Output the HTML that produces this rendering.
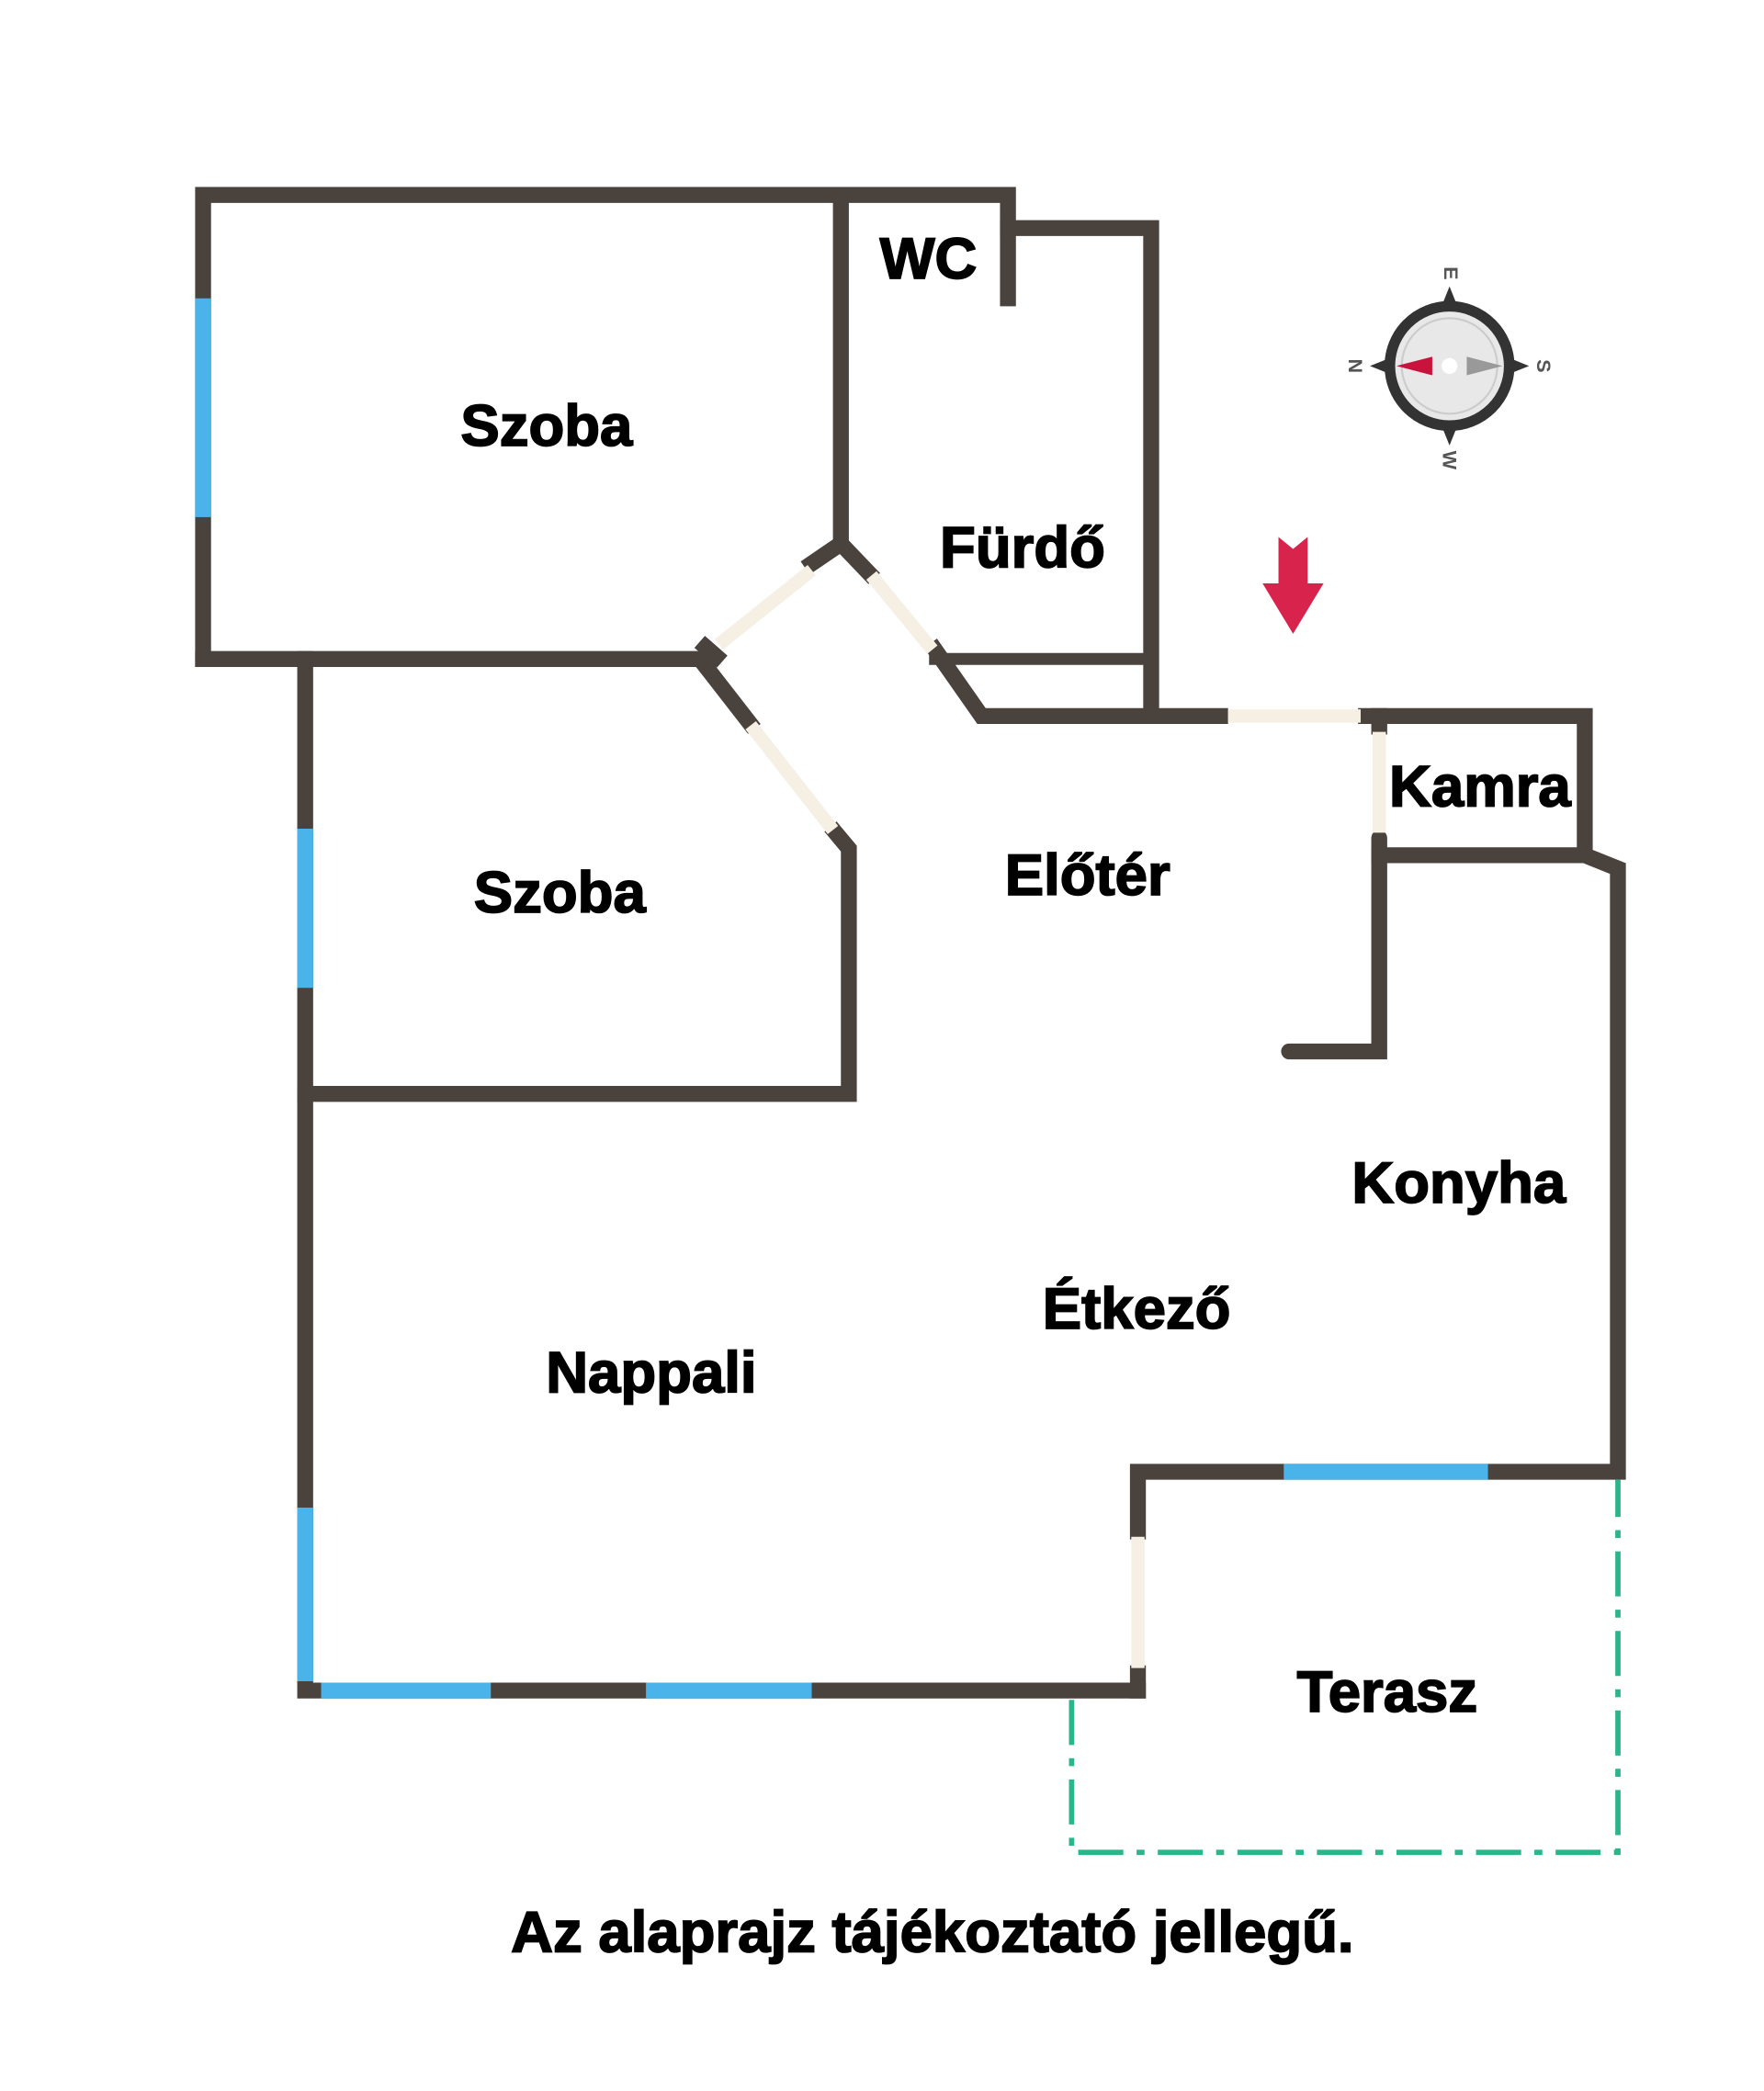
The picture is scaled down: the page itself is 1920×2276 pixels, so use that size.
<!DOCTYPE html>
<html><head><meta charset="utf-8"><style>
html,body{margin:0;padding:0;background:#fff}
svg{display:block}
text{font-family:"Liberation Sans",Arial,sans-serif;font-weight:bold;fill:#000}
.lbl text{stroke:#000;stroke-width:1.2}
</style></head><body>
<svg width="1920" height="2276" viewBox="0 0 1330 1577" xmlns="http://www.w3.org/2000/svg">
<g stroke="#4a423d" stroke-width="12" stroke-linecap="square" fill="none" stroke-linejoin="miter">
<polyline points="153,497 153,147 760,147 760,225"/>
<polyline points="760,172 868,172 868,540"/>
<line x1="634" y1="147" x2="634" y2="410"/>
<line x1="153" y1="497" x2="530" y2="497"/>
<line x1="705" y1="497" x2="862" y2="497" stroke-width="9"/>
<polyline points="612,425 634,410 655,432"/>
<line x1="532" y1="488" x2="540" y2="495"/>
<polyline points="705,490 740,540 920,540"/>
<polyline points="1030,540 1195,540 1195,645"/>
<line x1="1040" y1="540" x2="1040" y2="548"/>
<polyline points="1040,632 1040,793 972,793" stroke-linecap="round"/>
<polyline points="1040,645 1195,645 1220,655 1220,1110 858,1110 858,1155"/>
<line x1="858" y1="1262" x2="858" y2="1275"/>
<polyline points="230,497 230,1275 858,1275"/>
<line x1="530" y1="500" x2="565" y2="545"/>
<polyline points="630,628 640,640 640,825 230,825"/>
</g>
<g stroke="#f6efe3" stroke-width="10" fill="none">
<line x1="542" y1="486" x2="612" y2="430"/>
<line x1="657" y1="434" x2="703" y2="490"/>
<line x1="566" y1="547" x2="628" y2="626"/>
<line x1="926" y1="540" x2="1026" y2="540"/>
<line x1="1040" y1="552" x2="1040" y2="628"/>
<line x1="858" y1="1159" x2="858" y2="1258"/>
</g>
<g stroke="#4ab4ea" stroke-width="12" fill="none">
<line x1="153" y1="225" x2="153" y2="390"/>
<line x1="230" y1="625" x2="230" y2="745"/>
<line x1="230" y1="1137" x2="230" y2="1268"/>
<line x1="242" y1="1275" x2="370" y2="1275"/>
<line x1="487" y1="1275" x2="612" y2="1275"/>
<line x1="968" y1="1110" x2="1122" y2="1110"/>
</g>
<polyline points="808,1282 808,1397 1220,1397 1220,1116" fill="none" stroke="#2bb58a" stroke-width="4" stroke-dasharray="34,10,6,10"/>
<g transform="translate(1093,276)">
<polygon points="0,-60 10,-35 -10,-35" fill="#333"/>
<polygon points="0,60 10,35 -10,35" fill="#333"/>
<polygon points="-60,0 -35,10 -35,-10" fill="#333"/>
<polygon points="60,0 35,10 35,-10" fill="#333"/>
<circle r="45" fill="#e8e8e8" stroke="#333" stroke-width="8"/>
<circle r="36" fill="none" stroke="#ccc" stroke-width="1.5"/>
<polygon points="-40,0 -13,-7 -13,7" fill="#c8143c"/>
<polygon points="40,0 13,-7 13,7" fill="#999"/>
<circle r="6" fill="#fff"/>
<text x="0" y="-66" font-size="15" text-anchor="middle" transform="rotate(90 0 -70)" style="fill:#555">E</text>
<text x="0" y="76" font-size="15" text-anchor="middle" transform="rotate(90 0 71)" style="fill:#555">W</text>
<text x="-71" y="5" font-size="15" text-anchor="middle" transform="rotate(90 -71 0)" style="fill:#555">N</text>
<text x="71" y="5" font-size="15" text-anchor="middle" transform="rotate(90 71 0)" style="fill:#555">S</text>
</g>
<polygon points="964,405 975,414 986,405 986,440 998,440 975,478 952,440 964,440" fill="#d8244c"/>
<g font-size="44" text-anchor="middle" class="lbl">
<text x="412" y="336">Szoba</text>
<text x="422" y="688">Szoba</text>
<text x="700" y="210">WC</text>
<text x="771" y="428">Fürdő</text>
<text x="820" y="675">Előtér</text>
<text x="1116" y="608">Kamra</text>
<text x="1100" y="907">Konyha</text>
<text x="857" y="1002">Étkező</text>
<text x="491" y="1050">Nappali</text>
<text x="1046" y="1291">Terasz</text>
<text x="703" y="1472">Az alaprajz tájékoztató jellegű.</text>
</g>
</svg>
</body></html>
